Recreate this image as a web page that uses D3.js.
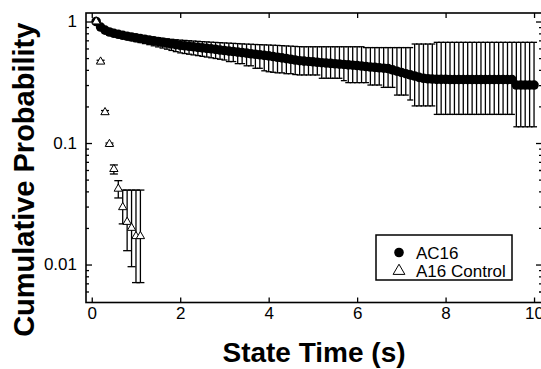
<!DOCTYPE html>
<html>
<head>
<meta charset="utf-8">
<script src="https://cdn.jsdelivr.net/npm/d3@7"></script>
<style>
	body { margin: 0; background: #fff; }
	text { font-family: "Liberation Sans", Arial, sans-serif; fill: #000; }
</style>
</head>
<body>
<script>

//AC16 survival data
var acTime = [0.1,0.2,0.3,0.4,0.5,0.6,0.7,0.8,0.9,1.0,
	1.1,1.2,1.3,1.4,1.5,1.6,1.7,1.8,1.9,2.0,
	2.1,2.2,2.3,2.4,2.5,2.6,2.7,2.8,2.9,3.0,
	3.1,3.2,3.3,3.4,3.5,3.6,3.7,3.8,3.9,4.0,
	4.1,4.2,4.3,4.4,4.5,4.6,4.7,4.8,4.9,5.0,
	5.1,5.2,5.3,5.4,5.5,5.6,5.7,5.8,5.9,6.0,
	6.1,6.2,6.3,6.4,6.5,6.6,6.7,6.8,6.9,7.0,
	7.1,7.2,7.3,7.4,7.5,7.6,7.7,7.8,7.9,8.0,
	8.1,8.2,8.3,8.4,8.5,8.6,8.7,8.8,8.9,9.0,
	9.1,9.2,9.3,9.4,9.5,9.6,9.7,9.8,9.9,10.0];
var acProb = [1.000,0.900,0.850,0.820,0.800,0.785,0.770,0.757,0.746,0.735,
	0.724,0.714,0.704,0.694,0.685,0.675,0.665,0.655,0.645,0.637,
	0.631,0.625,0.619,0.613,0.607,0.601,0.596,0.590,0.583,0.577,
	0.571,0.566,0.560,0.555,0.549,0.543,0.537,0.532,0.526,0.521,
	0.515,0.508,0.502,0.495,0.489,0.482,0.476,0.472,0.469,0.466,
	0.462,0.458,0.455,0.452,0.449,0.446,0.443,0.440,0.437,0.434,
	0.430,0.426,0.422,0.419,0.416,0.413,0.410,0.400,0.390,0.381,
	0.372,0.364,0.356,0.347,0.341,0.338,0.336,0.334,0.334,0.334,
	0.333,0.333,0.333,0.333,0.333,0.333,0.333,0.333,0.333,0.333,
	0.333,0.333,0.333,0.333,0.333,0.300,0.300,0.300,0.300,0.300];
var acUpper = [1.000,0.930,0.880,0.855,0.835,0.820,0.805,0.792,0.782,0.772,
	0.764,0.756,0.748,0.741,0.734,0.727,0.720,0.714,0.708,0.703,
	0.699,0.695,0.691,0.687,0.683,0.680,0.676,0.673,0.670,0.667,
	0.664,0.661,0.658,0.655,0.652,0.650,0.647,0.645,0.643,0.641,
	0.638,0.636,0.633,0.630,0.627,0.624,0.621,0.620,0.620,0.620,
	0.620,0.620,0.620,0.620,0.620,0.620,0.620,0.620,0.620,0.620,
	0.620,0.610,0.610,0.610,0.610,0.610,0.610,0.610,0.610,0.610,
	0.610,0.610,0.653,0.653,0.653,0.653,0.653,0.674,0.674,0.674,
	0.674,0.674,0.674,0.674,0.674,0.674,0.674,0.674,0.674,0.674,
	0.674,0.674,0.674,0.674,0.674,0.674,0.674,0.674,0.674,0.674];
var acLower = [1.000,0.870,0.815,0.780,0.760,0.742,0.726,0.711,0.697,0.684,
	0.671,0.658,0.645,0.631,0.618,0.605,0.592,0.578,0.565,0.552,
	0.545,0.538,0.531,0.524,0.517,0.510,0.503,0.496,0.489,0.482,
	0.468,0.468,0.450,0.450,0.432,0.432,0.412,0.412,0.393,0.386,
	0.382,0.378,0.378,0.372,0.372,0.366,0.363,0.363,0.363,0.363,
	0.363,0.341,0.341,0.341,0.341,0.341,0.326,0.314,0.314,0.314,
	0.314,0.314,0.300,0.300,0.300,0.287,0.287,0.287,0.248,0.248,
	0.248,0.226,0.202,0.202,0.202,0.202,0.202,0.172,0.172,0.172,
	0.172,0.172,0.172,0.172,0.172,0.172,0.172,0.172,0.172,0.172,
	0.172,0.172,0.172,0.172,0.172,0.136,0.136,0.136,0.136,0.136];

//A16 control data
var ctrlTime  = [0.1,0.2,0.3,0.4,0.5,0.6,0.7,0.8,0.9,1.0,1.1];
var ctrlProb  = [1.0,0.467,0.179,0.098,0.061,0.042,0.0296,0.0224,0.0200,0.0171,0.0171];
var ctrlUpper = [1.0,0.480,0.185,0.100,0.066,0.049,0.041,0.041,0.041,0.041,0.041];
var ctrlLower = [1.0,0.455,0.173,0.096,0.0556,0.0353,0.0216,0.0130,0.0096,0.0071,0.0071];

//axis ticks and labels
var xTicks = [0, 2, 4, 6, 8, 10];
var yMajor = [1, 0.1, 0.01];
var yMajorLabels = ["1", "0.1", "0.01"];
var yMinor = [0.006,0.007,0.008,0.009,0.02,0.03,0.04,0.05,0.06,0.07,0.08,0.09,
	0.2,0.3,0.4,0.5,0.6,0.7,0.8,0.9];
var seriesNames = ["AC16", "A16 Control"];

var W = 541, H = 369;
var frame = {left: 86, right: 542, top: 13, bottom: 302.5};
var capLen = 3;

var svg = d3.select("body").append("svg")
	.attr("width", W)
	.attr("height", H);

var xScale = d3.scaleLinear().domain([-0.13, 10.18]).range([frame.left, frame.right]);
var yScale = d3.scaleLog().domain([0.00487, 1.175]).range([frame.bottom, frame.top]);

//pack series into point objects
function makePoints(t, p, up, lo) {
	return t.map(function(d, i) { return {x: d, y: p[i], hi: up[i], lo: lo[i]}; });
}
var acData = makePoints(acTime, acProb, acUpper, acLower);
var ctrlData = makePoints(ctrlTime, ctrlProb, ctrlUpper, ctrlLower);

//////////////
// error bars
//////////////
function addErrors(data, cap) {
	var g = svg.append("g").attr("stroke", "#000").attr("stroke-width", 1.3);
	var bars = data.filter(function(d) { return d.hi !== d.lo; });
	g.selectAll(".err").data(bars).enter().append("line")
		.attr("x1", function(d) { return xScale(d.x); })
		.attr("x2", function(d) { return xScale(d.x); })
		.attr("y1", function(d) { return yScale(d.hi); })
		.attr("y2", function(d) { return yScale(d.lo); });
	g.selectAll(".capTop").data(bars).enter().append("line")
		.attr("x1", function(d) { return xScale(d.x) - cap; })
		.attr("x2", function(d) { return xScale(d.x) + cap; })
		.attr("y1", function(d) { return yScale(d.hi); })
		.attr("y2", function(d) { return yScale(d.hi); });
	g.selectAll(".capBot").data(bars).enter().append("line")
		.attr("x1", function(d) { return xScale(d.x) - cap; })
		.attr("x2", function(d) { return xScale(d.x) + cap; })
		.attr("y1", function(d) { return yScale(d.lo); })
		.attr("y2", function(d) { return yScale(d.lo); });
}

addErrors(acData, capLen);

svg.append("g").selectAll("circle")
	.data(acData).enter()
	.append("circle")
	.attr("cx", function(d) { return xScale(d.x); })
	.attr("cy", function(d) { return yScale(d.y); })
	.attr("r", 4.8)
	.attr("fill", "#000");

addErrors(ctrlData, 4);

var triSmall = d3.symbol(d3.symbolTriangle).size(30);
svg.append("g").selectAll("path")
	.data(ctrlData).enter()
	.append("path")
	.attr("d", triSmall)
	.attr("transform", function(d) { return "translate(" + xScale(d.x) + "," + yScale(d.y) + ")"; })
	.attr("fill", "#fff")
	.attr("stroke", "#000")
	.attr("stroke-width", 1);

//////////////
// axes
//////////////
var fs = "17px";

var gx = svg.append("g")
	.attr("transform", "translate(0," + frame.bottom + ")")
	.call(d3.axisBottom(xScale).tickValues(xTicks).tickSizeInner(-5).tickSizeOuter(0).tickPadding(4));
gx.selectAll("text").style("font-size", fs);

var gxTop = svg.append("g")
	.attr("transform", "translate(0," + frame.top + ")")
	.call(d3.axisTop(xScale).tickValues(xTicks).tickSizeInner(-5).tickSizeOuter(0).tickFormat(""));

var gy = svg.append("g")
	.attr("transform", "translate(" + frame.left + ",0)")
	.call(d3.axisLeft(yScale).tickValues(yMajor).tickSizeInner(-6).tickSizeOuter(0).tickPadding(9)
		.tickFormat(function(d, i) { return yMajorLabels[i]; }));
gy.selectAll("text").style("font-size", fs);

svg.append("g")
	.attr("transform", "translate(" + frame.left + ",0)")
	.call(d3.axisLeft(yScale).tickValues(yMinor).tickSizeInner(-3).tickSizeOuter(0).tickFormat(""));

svg.append("g")
	.attr("transform", "translate(" + frame.right + ",0)")
	.call(d3.axisRight(yScale).tickValues(yMajor).tickSizeInner(-6).tickSizeOuter(0).tickFormat(""));
svg.append("g")
	.attr("transform", "translate(" + frame.right + ",0)")
	.call(d3.axisRight(yScale).tickValues(yMinor).tickSizeInner(-3).tickSizeOuter(0).tickFormat(""));

svg.selectAll(".domain").remove();
svg.selectAll(".tick line").attr("stroke", "#000").attr("stroke-width", 1.3);

//frame
svg.append("rect")
	.attr("x", frame.left)
	.attr("y", frame.top)
	.attr("width", frame.right - frame.left)
	.attr("height", frame.bottom - frame.top)
	.attr("fill", "none")
	.attr("stroke", "#000")
	.attr("stroke-width", 1.6);

//axis titles
svg.append("text")
	.attr("x", (frame.left + frame.right) / 2)
	.attr("y", 362)
	.attr("text-anchor", "middle")
	.style("font-size", "28px")
	.style("font-weight", "bold")
	.text("State Time (s)");

svg.append("text")
	.attr("transform", "translate(34," + ((frame.top + frame.bottom) / 2 + 22) + ") rotate(-90)")
	.attr("text-anchor", "middle")
	.style("font-size", "29px")
	.style("font-weight", "bold")
	.text("Cumulative Probability");

//////////////
// legend
//////////////
var lg = svg.append("g").attr("transform", "translate(376,235)");
lg.append("rect")
	.attr("width", 136)
	.attr("height", 45)
	.attr("fill", "#fff")
	.attr("stroke", "#000")
	.attr("stroke-width", 1.5);

var items = lg.selectAll(".item").data(seriesNames).enter()
	.append("g")
	.attr("transform", function(d, i) { return "translate(23," + (17.5 + i * 18.5) + ")"; });

items.filter(function(d, i) { return i === 0; })
	.append("circle").attr("r", 4.8).attr("fill", "#000");
items.filter(function(d, i) { return i === 1; })
	.append("path")
	.attr("d", d3.symbol(d3.symbolTriangle).size(60))
	.attr("fill", "#fff")
	.attr("stroke", "#000")
	.attr("stroke-width", 1);

items.append("text")
	.attr("x", 17)
	.attr("y", 6)
	.style("font-size", fs)
	.text(function(d) { return d; });

</script>
</body>
</html>
